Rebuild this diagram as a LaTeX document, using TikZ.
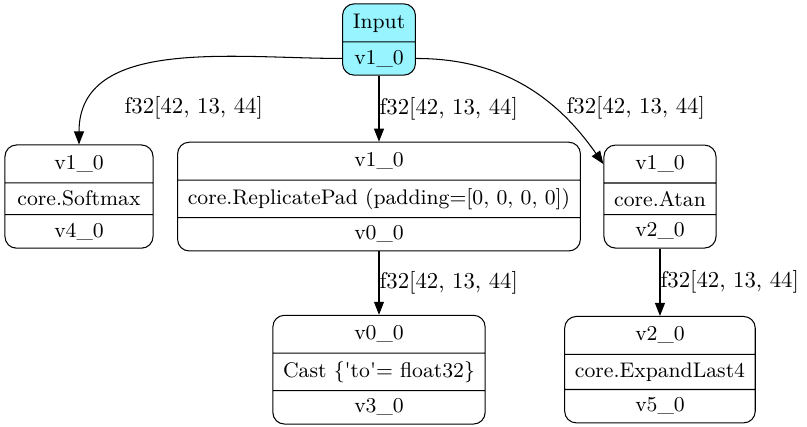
\documentclass[tikz,border=0pt]{standalone}
\usepackage{tikz}
\usetikzlibrary{arrows.meta,positioning,shapes.multipart}
\definecolor{inputcyan}{RGB}{152,245,255}

\begin{document}
\begin{tikzpicture}[x=0.431pt, y=-0.431pt, node distance=67.7pt, font=\fontsize{9.1}{11}\selectfont]
		\tikzstyle{opnode} = [rectangle split, rectangle split parts=3, rounded corners=5pt,
		draw=black, line width=0.45pt, inner xsep=4.4pt, inner ysep=3.3pt,
		text height=7pt, text depth=2.3pt]
		\tikzstyle{innode} = [opnode, rectangle split parts=2, fill=inputcyan]
		\tikzstyle{arrow} = [line width=0.45pt, -{Triangle[length=5.6pt, width=4.3pt]}]
		\tikzstyle{lbl} = [inner sep=0pt, anchor=west, font=\fontsize{9.8}{11}\selectfont]
		\useasboundingbox (0,0) rectangle (807,427);
		\node (input) [innode] at (379,39.5) {Input \nodepart{two} v1\_0};
		\node (replicate) [opnode, below of=input] {v1\_0 \nodepart{two} core.ReplicatePad (padding=[0, 0, 0, 0]) \nodepart{three} v0\_0};
		\node (softmax) [opnode, node distance=129.3pt, left of=replicate, inner xsep=5.4pt] {v1\_0 \nodepart{two} core.Softmax \nodepart{three} v4\_0};
		\node (atan) [opnode, node distance=121.1pt, right of=replicate] {v1\_0 \nodepart{two} core.Atan \nodepart{three} v2\_0};
		\node (cast) [opnode, node distance=74.6pt, below of=replicate] {v0\_0 \nodepart{two} Cast \{\textquotesingle to\textquotesingle = float32\} \nodepart{three} v3\_0};
		\node (expand) [opnode, node distance=74.6pt, below of=atan] {v2\_0 \nodepart{two} core.ExpandLast4 \nodepart{three} v5\_0};
		\draw [arrow] (input.two west) to[out=180, in=90] (softmax.north) node[lbl] at (124,108) {f32[42, 13, 44]};
		\draw [arrow] (input) -- node[lbl] {f32[42, 13, 44]} (replicate);
		\draw [arrow] (input.two east) to[out=0, in=125] (atan.one west) node[lbl] at (566,108) {f32[42, 13, 44]};
		\draw [arrow] (replicate) -- node[lbl] {f32[42, 13, 44]} (cast);
		\draw [arrow] (atan) -- node[lbl] {f32[42, 13, 44]} (expand);
\end{tikzpicture}
\end{document}
